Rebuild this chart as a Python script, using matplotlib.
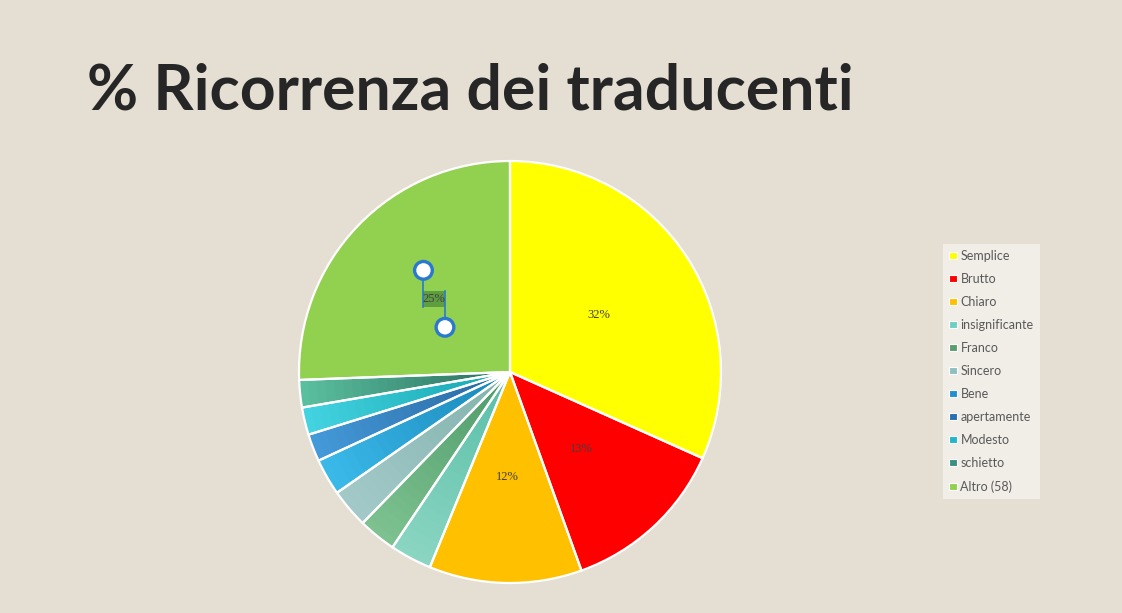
import numpy as np
import matplotlib.pyplot as plt
from matplotlib.patches import Patch, Rectangle, Circle
from matplotlib.colors import to_rgb

# data (percent of occurrences)
labels = ["Semplice", "Brutto", "Chiaro", "insignificante", "Franco", "Sincero",
          "Bene", "apertamente", "Modesto", "schietto", "Altro (58)"]
values = [31.7, 12.8, 11.7, 3.2, 2.9, 3.0, 2.8, 2.1, 2.1, 2.1, 25.6]
shown_pct = ["32%", "13%", "12%", None, None, None, None, None, None, None, "25%"]

outer_cols = ["#FFFF00", "#FF0000", "#FFC000", "#8AD5C2", "#7DC190", "#A2C9C8",
              "#3AB9E9", "#4499D8", "#42D2E0", "#5ABF9E", "#92D050"]
inner_cols = ["#FFFF00", "#FF0000", "#FFC000", "#58BEA6", "#4E9A6A", "#82B2AC",
              "#1886B8", "#2866A0", "#16A6B0", "#2A6E5E", "#92D050"]
legend_cols = ["#FFFF00", "#FF0000", "#FFC000", "#6FD0C0", "#5A9E6E", "#8FC0C0",
               "#2090D0", "#2870B0", "#20B8C8", "#3A9080", "#92D050"]

BG = "#E4DED3"
fig = plt.figure(figsize=(11.22, 6.13), dpi=100, facecolor=BG)

fig.text(87 / 1122, 1 - 110 / 613, "% Ricorrenza dei traducenti", fontsize=45,
         fontweight="bold", family="Lato", color="#262626", va="baseline", ha="left")

R = 211
cx, cy = 510, 372
ax = fig.add_axes([(cx - R) / 1122, (613 - cy - R) / 613, 2 * R / 1122, 2 * R / 613])
ax.set_facecolor("none")

# radial shading: draw shrinking pies from outer colour to inner colour
n = 24
for k in range(n):
    t = k / (n - 1)
    r = 1 - k / n
    cols = [tuple((1 - t) * np.array(to_rgb(o)) + t * np.array(to_rgb(i)))
            for o, i in zip(outer_cols, inner_cols)]
    ax.pie(values, radius=r, colors=cols, startangle=90, counterclock=False,
           wedgeprops=dict(linewidth=0))

# white borders
wedges, _ = ax.pie(values, radius=1, startangle=90, counterclock=False,
                   wedgeprops=dict(linewidth=1.6, edgecolor="white", facecolor="none"))
ax.set_xlim(-1.0, 1.0)
ax.set_ylim(-1.0, 1.0)

for w, p in zip(wedges, shown_pct):
    if p is None:
        continue
    ang = np.deg2rad((w.theta1 + w.theta2) / 2)
    x, y = 0.5 * np.cos(ang), 0.5 * np.sin(ang)
    if p == "25%":
        ax.add_patch(Rectangle((x - 0.052, y - 0.04), 0.104, 0.078,
                               facecolor="#5E9E40", edgecolor="none", zorder=5))
        ax.plot([x - 0.05, x - 0.05], [y + 0.135, y - 0.04], color="#2A78D0", lw=1.2, zorder=6)
        ax.plot([x + 0.052, x + 0.052], [y + 0.035, y - 0.135], color="#2A78D0", lw=1.2, zorder=6)
        ax.add_patch(Circle((x - 0.05, y + 0.135), 0.042, facecolor="white",
                            edgecolor="#2A78D0", lw=2.4, zorder=7))
        ax.add_patch(Circle((x + 0.052, y - 0.135), 0.042, facecolor="white",
                            edgecolor="#2A78D0", lw=2.4, zorder=7))
    ax.text(x, y, p, ha="center", va="center", fontsize=9,
            family="Liberation Serif", color="#404040", zorder=8)

handles = [Patch(facecolor=c, edgecolor="white", linewidth=0.8) for c in legend_cols]
leg = fig.legend(handles, labels, loc="upper left",
                 bbox_to_anchor=(943 / 1122, 1 - 244 / 613),
                 frameon=True, fancybox=False, facecolor="#F1EEE8", edgecolor="none",
                 framealpha=1, handlelength=0.6, handleheight=0.45,
                 handletextpad=0.3, labelspacing=0.88, borderpad=0.5,
                 borderaxespad=0, prop=dict(family="Lato", size=9))
for t in leg.get_texts():
    t.set_color("#595959")

fig.savefig("out.png", dpi=100, facecolor=BG)
